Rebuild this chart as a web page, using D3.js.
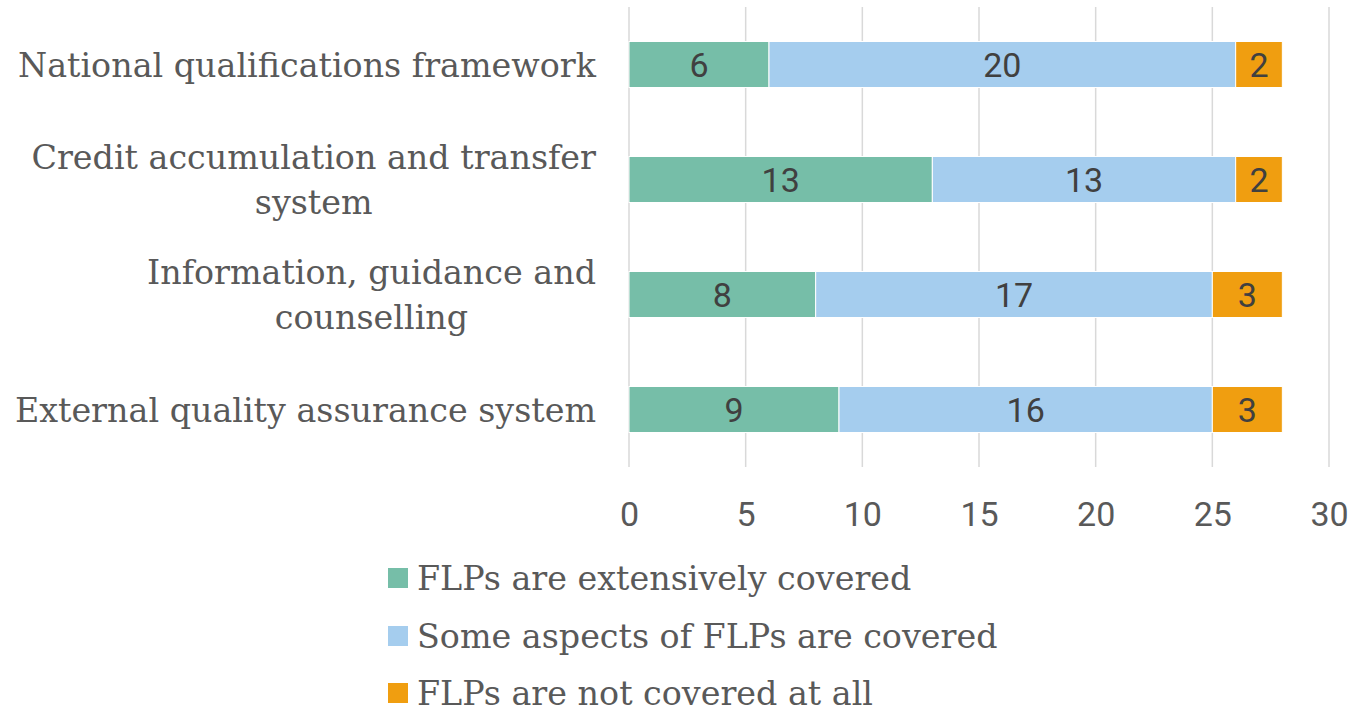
<!DOCTYPE html>
<html>
<head>
<meta charset="utf-8">
<script src="https://cdn.jsdelivr.net/npm/d3@7/dist/d3.min.js"></script>
<style>
  html, body { margin: 0; padding: 0; background: #fff; }
  svg { display: block; }
</style>
</head>
<body>
<svg id="chart" width="1351" height="716"></svg>
<script>
const categories = [
  "National qualifications framework",
  "Credit accumulation and transfer system",
  "Information, guidance and counselling",
  "External quality assurance system"
];
const categoryLines = [
  ["National qualifications framework"],
  ["Credit accumulation and transfer", "system"],
  ["Information, guidance and", "counselling"],
  ["External quality assurance system"]
];
const seriesNames = [
  "FLPs are extensively covered",
  "Some aspects of FLPs are covered",
  "FLPs are not covered at all"
];
const extensively = [6, 13, 8, 9];
const someAspects = [20, 13, 17, 16];
const notCovered = [2, 2, 3, 3];
const xTicks = [0, 5, 10, 15, 20, 25, 30];
const colors = ["#76BEA8", "#A5CDEE", "#F09E10"];

const svg = d3.select("#chart");
const serif = "'DejaVu Serif', serif";
const numFont = "Roboto, 'Liberation Sans', sans-serif";
const textColor = "#595959";

const margin = {left: 629, right: 22, top: 7, bottom: 249};
const W = 1351, H = 716;

const x = d3.scaleLinear().domain([0, 30]).range([margin.left, W - margin.right]);
const y = d3.scaleBand().domain(categories).range([margin.top, H - margin.bottom]).paddingInner(0.6).paddingOuter(0.3);

const table = categories.map((c, i) => ({
  cat: c,
  [seriesNames[0]]: extensively[i],
  [seriesNames[1]]: someAspects[i],
  [seriesNames[2]]: notCovered[i]
}));
const stack = d3.stack().keys(seriesNames)(table);

// gridlines
svg.append("g")
  .selectAll("line")
  .data(xTicks)
  .join("line")
  .attr("x1", d => x(d)).attr("x2", d => x(d))
  .attr("y1", margin.top).attr("y2", H - margin.bottom)
  .attr("stroke", "#D9D9D9").attr("stroke-width", 1.5);

// bars
const groups = svg.append("g").selectAll("g")
  .data(stack).join("g")
  .attr("fill", (d, i) => colors[i]);

groups.selectAll("rect")
  .data(d => d.map(p => ({p, cat: p.data.cat})))
  .join("rect")
  .attr("x", d => x(d.p[0]))
  .attr("width", d => x(d.p[1]) - x(d.p[0]))
  .attr("y", d => y(d.cat))
  .attr("height", y.bandwidth())
  .attr("stroke", "#fff").attr("stroke-width", 1);

// data labels
groups.selectAll("text")
  .data(d => d.map(p => ({p, cat: p.data.cat})))
  .join("text")
  .attr("x", d => (x(d.p[0]) + x(d.p[1])) / 2)
  .attr("y", d => y(d.cat) + y.bandwidth() / 2 + 12.5)
  .attr("text-anchor", "middle")
  .attr("font-family", numFont)
  .attr("font-size", 34)
  .attr("fill", "#404040")
  .text(d => d.p[1] - d.p[0]);

// x axis tick labels
const xAxis = d3.axisBottom(x).tickValues(xTicks).tickSize(0).tickPadding(0);
const xg = svg.append("g").attr("transform", `translate(0, ${H - margin.bottom})`).call(xAxis);
xg.select(".domain").remove();
xg.selectAll("text")
  .attr("dy", 0)
  .attr("y", 59)
  .attr("font-family", numFont)
  .attr("font-size", 34)
  .attr("fill", textColor);

// category labels: fit font size to reference width
const probe = svg.append("text").attr("font-family", serif).attr("font-size", 30).text(categoryLines[0][0]);
const probeW = probe.node().getComputedTextLength();
probe.remove();
const catSize = 30 * 578 / probeW;
const capH = catSize * 0.729;
const lineGap = 45;
const rightEdge = 596;

const catG = svg.append("g");
categoryLines.forEach((lines, i) => {
  const cy = y(categories[i]) + y.bandwidth() / 2;
  const widths = lines.map(l => {
    const t = svg.append("text").attr("font-family", serif).attr("font-size", catSize).text(l);
    const w = t.node().getComputedTextLength();
    t.remove();
    return w;
  });
  const maxW = d3.max(widths);
  const cx = rightEdge - maxW / 2;
  lines.forEach((l, j) => {
    const lc = cy + (j - (lines.length - 1) / 2) * lineGap;
    catG.append("text")
      .attr("x", cx)
      .attr("y", lc + capH / 2)
      .attr("text-anchor", "middle")
      .attr("font-family", serif)
      .attr("font-size", catSize)
      .attr("fill", textColor)
      .text(l);
  });
});

// legend
const legendRows = [578, 636, 693];
const lg = svg.append("g");
seriesNames.forEach((s, i) => {
  lg.append("rect")
    .attr("x", 388).attr("y", legendRows[i] - 10)
    .attr("width", 20).attr("height", 20)
    .attr("fill", colors[i]);
  lg.append("text")
    .attr("x", 417)
    .attr("y", legendRows[i] + capH / 2)
    .attr("font-family", serif)
    .attr("font-size", catSize)
    .attr("fill", textColor)
    .text(s);
});
</script>
</body>
</html>
